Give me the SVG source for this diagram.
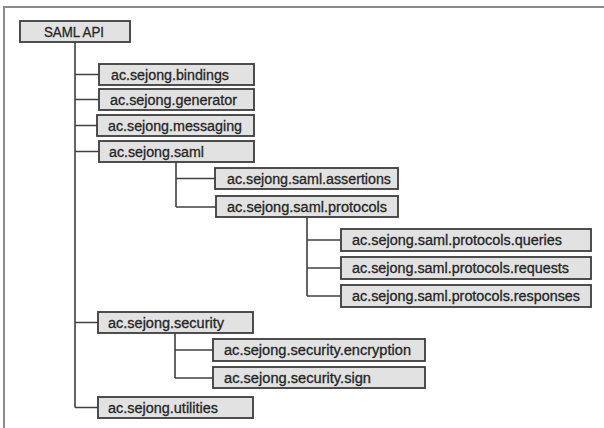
<svg xmlns="http://www.w3.org/2000/svg" width="604" height="428" viewBox="0 0 604 428">
<style>
.box{fill:#e2e2e2;stroke:#3c3c3c;stroke-width:1.8}
.t{font-family:"Liberation Sans",Arial,sans-serif;font-size:14px;fill:#262626;stroke:#262626;stroke-width:0.3}
.c{fill:none;stroke:#404040;stroke-width:1.6}
.frame{fill:none;stroke:#8a8a8a;stroke-width:2}
</style>
<rect width="604" height="428" fill="#fff"/>
<path class="frame" d="M4,428 V7 H604"/>
<g id="connectors">
<path class="c" d="M75,42 V407.5 M75,74.5 H99 M75,99.5 H99 M75,125.5 H97 M75,151.5 H99 M75,322.5 H98 M75,407.5 H98"/>
<path class="c" d="M176,162 V207 M176,178.5 H215 M176,207 H216"/>
<path class="c" d="M307,217 V296 M307,240 H341 M307,268 H341 M307,296 H341"/>
<path class="c" d="M175,333 V378 M175,350 H213 M175,378 H213"/>
</g>
<g id="n-saml-api"><rect class="box" x="20" y="21" width="110" height="21"/><text class="t" x="44" y="36.5" textLength="60" lengthAdjust="spacingAndGlyphs">SAML API</text></g>
<g id="n-bindings"><rect class="box" x="99" y="64" width="155" height="21"/><text class="t" x="111" y="79.5" textLength="118" lengthAdjust="spacingAndGlyphs">ac.sejong.bindings</text></g>
<g id="n-generator"><rect class="box" x="99" y="89" width="155" height="21"/><text class="t" x="110" y="104.5" textLength="127" lengthAdjust="spacingAndGlyphs">ac.sejong.generator</text></g>
<g id="n-messaging"><rect class="box" x="97" y="115" width="157" height="21"/><text class="t" x="108" y="130.5" textLength="134" lengthAdjust="spacingAndGlyphs">ac.sejong.messaging</text></g>
<g id="n-saml"><rect class="box" x="99" y="141" width="155" height="21"/><text class="t" x="109" y="156.5" textLength="95" lengthAdjust="spacingAndGlyphs">ac.sejong.saml</text></g>
<g id="n-assertions"><rect class="box" x="215" y="168" width="183" height="21"/><text class="t" x="227" y="183.5" textLength="164" lengthAdjust="spacingAndGlyphs">ac.sejong.saml.assertions</text></g>
<g id="n-protocols"><rect class="box" x="216" y="196" width="182" height="21"/><text class="t" x="227" y="211.5" textLength="160" lengthAdjust="spacingAndGlyphs">ac.sejong.saml.protocols</text></g>
<g id="n-queries"><rect class="box" x="341" y="229" width="250" height="22"/><text class="t" x="352" y="245" textLength="210" lengthAdjust="spacingAndGlyphs">ac.sejong.saml.protocols.queries</text></g>
<g id="n-requests"><rect class="box" x="341" y="257" width="250" height="22"/><text class="t" x="352" y="273" textLength="217" lengthAdjust="spacingAndGlyphs">ac.sejong.saml.protocols.requests</text></g>
<g id="n-responses"><rect class="box" x="341" y="285" width="250" height="22"/><text class="t" x="352" y="301" textLength="228" lengthAdjust="spacingAndGlyphs">ac.sejong.saml.protocols.responses</text></g>
<g id="n-security"><rect class="box" x="98" y="312" width="155" height="21"/><text class="t" x="108" y="327.5" textLength="116" lengthAdjust="spacingAndGlyphs">ac.sejong.security</text></g>
<g id="n-encryption"><rect class="box" x="213" y="339" width="212" height="22"/><text class="t" x="224" y="355" textLength="187" lengthAdjust="spacingAndGlyphs">ac.sejong.security.encryption</text></g>
<g id="n-sign"><rect class="box" x="213" y="367" width="212" height="21"/><text class="t" x="224" y="382.5" textLength="147" lengthAdjust="spacingAndGlyphs">ac.sejong.security.sign</text></g>
<g id="n-utilities"><rect class="box" x="98" y="397" width="155" height="21"/><text class="t" x="108" y="412.5" textLength="110" lengthAdjust="spacingAndGlyphs">ac.sejong.utilities</text></g>
</svg>
